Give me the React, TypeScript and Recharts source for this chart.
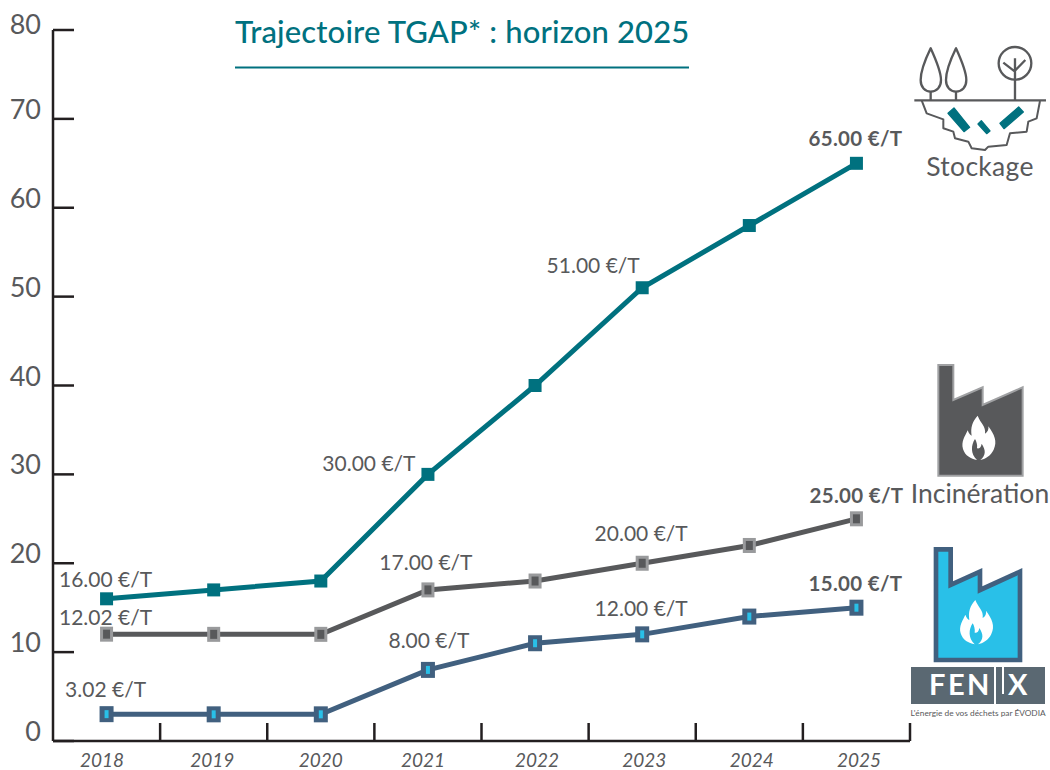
import React from 'react';
import { LineChart, Line, XAxis, YAxis, LabelList } from 'recharts';

const YEARS = ['2018', '2019', '2020', '2021', '2022', '2023', '2024', '2025'];
const STOCKAGE = [16, 17, 18, 30, 40, 51, 58, 65];
const INCINERATION = [12.02, 12, 12, 17, 18, 20, 22, 25];
const FENIX = [3.02, 3, 3, 8, 11, 12, 14, 15];
const Y_TICKS = [0, 10, 20, 30, 40, 50, 60, 70, 80];

const TEAL = '#00717f';
const GREY = '#58595b';
const BLUE = '#41607f';
const CYAN = '#29c0e8';
const AXIS = '#231f20';
const FONT = 'Lato, sans-serif';

const data = YEARS.map((year, i) => ({
  year,
  stockage: STOCKAGE[i],
  incineration: INCINERATION[i],
  fenix: FENIX[i],
}));

const WIDTH = 1050;
const HEIGHT = 770;
const PLOT_LEFT = 53;
const PLOT_RIGHT = 910;
const PLOT_TOP = 30;
const PLOT_BOTTOM = 741;
const STEP = (PLOT_RIGHT - PLOT_LEFT) / YEARS.length;

// the year labels are not quite centred on their bands in the original
const YEAR_LABEL_DX = [-4.5, -1.5, 0, -5, 2, 2, 2.5, 2.5];

// which points carry a label, and where it sits relative to the point
const STOCKAGE_LABELS: Record<number, [number, number]> = { 0: [-1, -19], 3: [-59, -10], 5: [-49, -22], 7: [-1, -24] };
const INCINERATION_LABELS: Record<number, [number, number]> = { 0: [-1, -16], 3: [-2, -27], 5: [-1, -29], 7: [0, -23] };
const FENIX_LABELS: Record<number, [number, number]> = { 0: [-1, -24], 3: [1, -29], 5: [-1, -25], 7: [-1, -24] };

const pointLabel = (offsets: Record<number, [number, number]>) => (props: any) => {
  const offset = offsets[props.index];
  if (!offset) return null;
  const isLast = props.index === YEARS.length - 1;
  return (
    <text
      x={props.x + offset[0]}
      y={props.y + offset[1] + 7}
      textAnchor="middle"
      fontFamily={FONT}
      fontSize={isLast ? 20.5 : 21}
      fontWeight={isLast ? 700 : 400}
      letterSpacing={isLast ? 0.3 : 0}
      fill={GREY}
    >
      {Number(props.value).toFixed(2)} €/T
    </text>
  );
};

const TealDot = (props: any) => (
  <rect key={props.index} x={props.cx - 6.5} y={props.cy - 6.5} width={13} height={13} fill={TEAL} />
);

const GreyDot = (props: any) => (
  <rect key={props.index} x={props.cx - 5} y={props.cy - 6} width={10} height={12} fill={GREY} stroke="#999a9c" strokeWidth={3} />
);

const BlueDot = (props: any) => (
  <g key={props.index}>
    <rect x={props.cx - 7} y={props.cy - 8} width={14} height={16} fill={BLUE} />
    <rect x={props.cx - 2} y={props.cy - 4} width={4} height={8} fill={CYAN} />
  </g>
);

const YearTick = (props: any) => {
  const { x, payload } = props;
  const dx = YEAR_LABEL_DX[YEARS.indexOf(payload.value)] ?? 0;
  return (
    <g>
      <line x1={x + STEP / 2} x2={x + STEP / 2} y1={PLOT_BOTTOM} y2={PLOT_BOTTOM - 18} stroke={AXIS} strokeWidth={2.5} />
      <text x={x + dx} y={767} textAnchor="middle" fontFamily={FONT} fontStyle="italic" fontSize={19} fill={GREY}>
        {payload.value}
      </text>
    </g>
  );
};

const ValueTick = (props: any) => {
  const { y, payload } = props;
  return (
    <g>
      <line x1={PLOT_LEFT} x2={PLOT_LEFT + 21} y1={y} y2={y} stroke={AXIS} strokeWidth={2.5} />
      <text x={41} y={payload.value === 80 ? y + 4 : y} textAnchor="end" fontFamily={FONT} fontSize={27} fill={GREY}>
        {payload.value}
      </text>
    </g>
  );
};

const FLAME =
  'M-4 -68 C4 -46 22 -36 18 -14 C26 -18 30 -28 28 -36 C46 -12 56 10 44 34 C36 52 18 62 4 65 C22 50 20 34 8 16 C6 28 0 32 -6 30 C-4 20 -8 8 -12 2 C-24 20 -26 46 -6 65 C-24 62 -42 52 -48 32 C-54 10 -42 -6 -34 -24 C-30 -14 -26 -10 -22 -8 C-26 -32 -20 -50 -4 -68Z';

const Decorations = () => (
  <svg width={WIDTH} height={HEIGHT} style={{ position: 'absolute', left: 0, top: 0, pointerEvents: 'none' }}>
    {/* title */}
    <text x={235} y={43} fontFamily={FONT} fontSize={31} fontWeight={500} letterSpacing={0.15} fill={TEAL}>
      Trajectoire TGAP* : horizon 2025
    </text>
    <line x1={235} x2={689} y1={67.5} y2={67.5} stroke={TEAL} strokeWidth={2} />

    {/* stockage icon, drawn in 3x units */}
    <g transform="translate(880 30) scale(0.3333)" fill="none" stroke="#58595b" strokeWidth={7} strokeLinejoin="round">
      <path d="M103 211H498" />
      <path d="M125 211L140 250L190 268L190 295L220 305L225 325L265 335L275 355L315 360L325 350L380 345L390 310L440 305L445 275L470 265L480 213" strokeWidth={6} />
      <path d="M152 55C135 90 122 125 122 150C122 172 135 185 152 185C170 185 183 172 183 150C183 125 168 90 152 55Z" />
      <path d="M152 185V211M228 185V211" />
      <path d="M228 55C211 90 198 125 198 150C198 172 211 185 228 185C246 185 259 172 259 150C259 125 244 90 228 55Z" />
      <circle cx={405} cy={100} r={49} />
      <path d="M405 211V85M405 125L370 98M405 122L436 90" />
      <g fill={TEAL} stroke={TEAL} strokeWidth={4}>
        <path d="M204 250L222 234L269 292L252 305Z" />
        <path d="M294 282L304 272L330 303L320 311Z" />
        <path d="M360 280L416 231L430 246L372 296Z" />
      </g>
    </g>
    <text x={980} y={176} textAnchor="middle" fontFamily={FONT} fontSize={26.5} letterSpacing={0.3} fill={GREY}>
      Stockage
    </text>

    {/* incineration icon */}
    <g transform="translate(880 350) scale(0.3333)">
      <path d="M175 45H220V150L308 112V165L428 112V377H175Z" fill={GREY} stroke="#a0a1a3" strokeWidth={6} />
      <path d={FLAME} transform="translate(297 265)" fill="#fff" />
    </g>
    <text x={980} y={503} textAnchor="middle" fontFamily={FONT} fontSize={26.5} fill={GREY}>
      Incinération
    </text>

    {/* fenix icon and logo */}
    <g transform="translate(880 530) scale(0.3333)">
      <path d="M168 58H212V165L300 125V180L420 125V390H168Z" fill={CYAN} stroke={BLUE} strokeWidth={14} />
      <path d={FLAME} transform="translate(290 278)" fill="#fff" />
    </g>
    <rect x={911} y={667} width={134} height={37} fill="#5a6872" />
    <rect x={994} y={667} width={2} height={37} fill="#fff" />
    <rect x={1002} y={667} width={2} height={27} fill="#fff" />
    <text x={929} y={695} fontFamily={FONT} fontSize={29} fontWeight={700} letterSpacing={2.5} fill="#fff">
      FEN
    </text>
    <text x={1008} y={695} fontFamily={FONT} fontSize={29} fontWeight={700} fill="#fff">
      X
    </text>
    <text x={978} y={716} textAnchor="middle" fontFamily={FONT} fontSize={8.3} fill={GREY}>
      L'énergie de vos déchets par ÉVODIA
    </text>
  </svg>
);

export default function App() {
  return (
    <div style={{ position: 'absolute', left: 0, top: 0, width: WIDTH, height: HEIGHT, background: '#fff' }}>
      <LineChart
        width={WIDTH}
        height={HEIGHT}
        data={data}
        margin={{ top: PLOT_TOP, right: WIDTH - PLOT_RIGHT, bottom: 0, left: 0 }}
      >
        <XAxis
          dataKey="year"
          scale="band"
          height={HEIGHT - PLOT_BOTTOM}
          interval={0}
          tickLine={false}
          axisLine={{ stroke: AXIS, strokeWidth: 2.5 }}
          tick={YearTick}
        />
        <YAxis
          width={PLOT_LEFT}
          domain={[0, 80]}
          ticks={Y_TICKS}
          interval={0}
          tickLine={false}
          axisLine={{ stroke: AXIS, strokeWidth: 2.5 }}
          tick={ValueTick}
        />
        <Line dataKey="stockage" stroke={TEAL} strokeWidth={5} dot={TealDot} activeDot={false} isAnimationActive={false}>
          <LabelList dataKey="stockage" content={pointLabel(STOCKAGE_LABELS)} />
        </Line>
        <Line dataKey="incineration" stroke={GREY} strokeWidth={5} dot={GreyDot} activeDot={false} isAnimationActive={false}>
          <LabelList dataKey="incineration" content={pointLabel(INCINERATION_LABELS)} />
        </Line>
        <Line dataKey="fenix" stroke={BLUE} strokeWidth={5} dot={BlueDot} activeDot={false} isAnimationActive={false}>
          <LabelList dataKey="fenix" content={pointLabel(FENIX_LABELS)} />
        </Line>
      </LineChart>
      <Decorations />
    </div>
  );
}
